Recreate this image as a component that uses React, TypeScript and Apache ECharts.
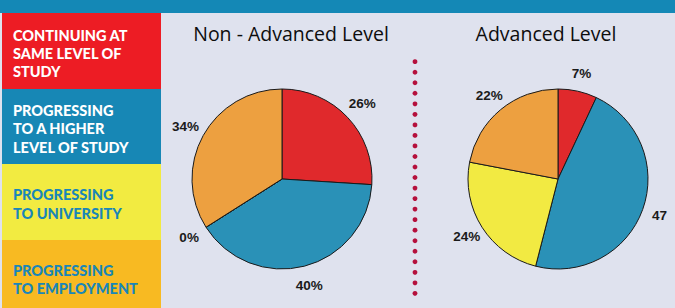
import React, { useEffect, useRef } from "react";
import * as echarts from "echarts";

const categories = [
  "Continuing at same level of study",
  "Progressing to a higher level of study",
  "Progressing to university",
  "Progressing to employment",
];
const nonAdvancedValues = [26, 40, 0, 34];
const advancedValues = [7, 47, 24, 22];
const nonAdvancedLabels = ["26%", "40%", "0%", "34%"];
const advancedLabels = ["7%", "47", "24%", "22%"];
const chartTitles = ["Non - Advanced Level", "Advanced Level"];
const legendLines = [
  ["CONTINUING AT", "SAME LEVEL OF", "STUDY"],
  ["PROGRESSING", "TO A HIGHER", "LEVEL OF STUDY"],
  ["PROGRESSING", "TO UNIVERSITY"],
  ["PROGRESSING", "TO EMPLOYMENT"],
];

const pieColors = ["#e0292c", "#2a91b7", "#f2ea42", "#eda040"];
const panelColors = ["#ed1c24", "#1787b5", "#f2eb41", "#f8ba22"];
const panelTextColors = ["#ffffff", "#ffffff", "#1a86b8", "#1a86b8"];

export default function App() {
  const ref = useRef<HTMLDivElement>(null);
  useEffect(() => {
    document.body.style.margin = "0";
    const chart = echarts.init(ref.current!, null, { renderer: "svg" });

    const panelBlocks = [
      { y: 13, h: 76, lines: [35, 53, 71] },
      { y: 89, h: 75, lines: [110, 128, 147] },
      { y: 164, h: 76, lines: [194, 213] },
      { y: 240, h: 68, lines: [270, 288] },
    ];
    const graphics: any[] = [
      { type: "rect", shape: { x: 0, y: 0, width: 675, height: 13 }, style: { fill: "#1488b6" }, z: 1 },
    ];
    panelBlocks.forEach((b, i) => {
      graphics.push({
        type: "rect",
        shape: { x: 2, y: b.y, width: 159, height: b.h },
        style: { fill: panelColors[i] },
        z: 1,
      });
      legendLines[i].forEach((t, j) => {
        graphics.push({
          type: "text",
          x: 13,
          y: b.lines[j],
          style: {
            text: t,
            fill: panelTextColors[i],
            font: "900 14.5px Lato",
            textAlign: "left",
            textVerticalAlign: "middle",
          },
          z: 2,
        });
      });
    });
    // dotted divider
    for (let k = 0; k < 23; k++) {
      graphics.push({
        type: "circle",
        shape: { cx: 415, cy: 61.7 + k * 10.53, r: 2.4 },
        style: { fill: "#b5103c" },
        z: 2,
      });
    }

    const mkPie = (values: number[], cx: number) => ({
      type: "pie",
      center: [cx, 179],
      radius: 90,
      startAngle: 90,
      clockwise: true,
      silent: true,
      label: { show: false },
      labelLine: { show: false },
      itemStyle: { borderColor: "#1a1a1a", borderWidth: 1 },
      data: values.map((v, i) => ({ name: categories[i], value: v, itemStyle: { color: pieColors[i] } })),
      z: 3,
    });
    const mkLabels = (values: number[], labels: string[], cx: number, r0: number, r1: number) => ({
      type: "pie",
      center: [cx, 179],
      radius: [r0, r1],
      startAngle: 90,
      clockwise: true,
      silent: true,
      itemStyle: { color: "rgba(0,0,0,0)", borderWidth: 0 },
      label: {
        show: true,
        position: "inside",
        color: "#1a1a1a",
        fontFamily: "Liberation Sans",
        fontWeight: "bold",
        fontSize: 13.5,
        formatter: (p: any) => labels[p.dataIndex],
      },
      labelLine: { show: false },
      data: values.map((v, i) => ({ name: categories[i], value: v })),
      z: 4,
    });

    const titleStyle = { fontFamily: "Open Sans", fontWeight: "normal", fontSize: 19.5, color: "#0d0d0d" };
    chart.setOption({
      animation: false,
      backgroundColor: "#dfe2ee",
      title: [
        { text: chartTitles[0], left: 286, top: 18, textAlign: "center", textStyle: titleStyle },
        { text: chartTitles[1], left: 541, top: 18, textAlign: "center", textStyle: titleStyle },
      ],
      graphic: graphics,
      series: [
        mkPie(nonAdvancedValues, 282),
        mkPie(advancedValues, 558),
        mkLabels(nonAdvancedValues, nonAdvancedLabels, 282, 96, 118),
        mkLabels(advancedValues, advancedLabels, 558, 94, 116),
      ],
    });
    return () => chart.dispose();
  }, []);
  return <div ref={ref} style={{ width: 675, height: 308 }} />;
}
